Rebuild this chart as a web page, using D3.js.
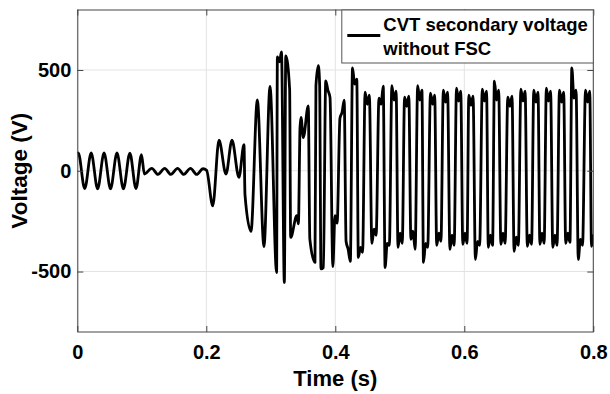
<!DOCTYPE html>
<html>
<head>
<meta charset="utf-8">
<script src="https://cdn.jsdelivr.net/npm/d3@7"></script>
<style>
  body { margin: 0; background: #fff; }
  svg text { font-family: "Liberation Sans", Arial, sans-serif; font-weight: bold; }
</style>
</head>
<body>
<script>
// pre-fault sine and the quiet stretch before the event (time s, voltage V)
var preT = [0, 0.0015, 0.0115, 0.0215, 0.0315, 0.0415, 0.0515, 0.0615, 0.0715, 0.0815, 0.0910, 0.0995,
            0.1040, 0.1155, 0.1250, 0.1355, 0.1450, 0.1555, 0.1650, 0.1755, 0.1850, 0.1950, 0.2005];
var preV = [85, 88, -89, 88, -90, 88, -90, 88, -90, 87, -89, 80,
            -16, 12, -18, 12, -18, 12, -18, 12, -18, 10, 2];

// transient after 0.2 s
var faultT = [0.2100, 0.2197, 0.2305, 0.2398, 0.2506, 0.2584, 0.2600, 0.2693, 0.2791, 0.2894, 0.2988,
              0.3090, 0.3102, 0.3135, 0.3165, 0.3210, 0.3232, 0.3292, 0.3308, 0.3403, 0.3428,
              0.3453, 0.3468, 0.3504, 0.3581, 0.3605, 0.3685, 0.3700, 0.3737, 0.3757, 0.3778, 0.3815];
var faultV = [-174, 152, -17, 152, -33, 129, -120, -301, 351, -376, 418,
              -505, 565, 540, 590, -554, 570, 405, -331, -223, -263,
              215, 265, 165, 322, -338, -455, 422, 521, 430, -487, -480];

// ferroresonance cycles: centre of each top / bottom and its two horns + notch
var topTime = [0.3885, 0.4105, 0.4300, 0.4495, 0.4710, 0.4910, 0.5107, 0.5310, 0.5508, 0.5708, 0.5912,
               0.6103, 0.6312, 0.6500, 0.6707, 0.6910, 0.7110, 0.7305, 0.7508, 0.7700, 0.7912];
var topHorn1 = [446, 260, 510, 390, 360, 422, 365, 422, 385, 400, 410, 375, 405, 445, 365, 405, 400, 410, 400, 510, 400];
var topNotch = [400, 290, 430, 330, 330, 350, 320, 350, 330, 340, 345, 325, 345, 350, 320, 345, 340, 345, 340, 360, 340];
var topHorn2 = [364, 350, 455, 375, 420, 395, 370, 400, 375, 390, 395, 370, 395, 400, 370, 395, 390, 395, 390, 400, 395];

var botTime = [0.3995, 0.4200, 0.4390, 0.4600, 0.4805, 0.5005, 0.5205, 0.5400, 0.5605, 0.5810, 0.6010,
               0.6205, 0.6405, 0.6600, 0.6805, 0.7010, 0.7205, 0.7405, 0.7605, 0.7800, 0.8005];
var botHorn1 = [-476, -350, -430, -360, -480, -380, -340, -455, -370, -390, -365, -440, -380, -365, -400, -375, -365, -380, -360, -440, -375];
var botNotch = [-223, -390, -380, -290, -360, -310, -300, -360, -310, -320, -310, -350, -320, -310, -330, -320, -310, -320, -310, -340, -320];
var botHorn2 = [-260, -450, -405, -320, -370, -360, -390, -380, -350, -370, -360, -370, -370, -360, -370, -365, -360, -370, -355, -370, -365];

var xTicks = [0, 0.2, 0.4, 0.6, 0.8];
var yTicks = [-500, 0, 500];
var legendLines = ["CVT secondary voltage", "without FSC"];

var width = 610, height = 394;
var margin = {top: 9.5, right: 16.7, bottom: 62, left: 77.3};
var w = width - margin.left - margin.right;
var h = height - margin.top - margin.bottom;
var half = 0.0033; // horn offset from plateau centre

var points = [];
preT.forEach(function(t, i) { points.push([t, preV[i]]); });
faultT.forEach(function(t, i) { points.push([t, faultV[i]]); });
topTime.forEach(function(t, i) {
	points.push([t - half, topHorn1[i]], [t, topNotch[i]], [t + half, topHorn2[i]]);
	var b = botTime[i];
	points.push([b - half, botHorn1[i]], [b, botNotch[i]], [b + half, botHorn2[i]]);
});

var x = d3.scaleLinear().domain([0, 0.8]).range([0, w]);
var y = d3.scaleLinear().domain([-800, 800]).range([h, 0]);

var svg = d3.select("body").append("svg")
	.attr("width", width)
	.attr("height", height);

var g = svg.append("g")
	.attr("transform", "translate(" + margin.left + "," + margin.top + ")");

g.append("rect").attr("width", w).attr("height", h).attr("fill", "#fff");

// grid
g.selectAll(".gx").data(xTicks).enter().append("line")
	.attr("x1", function(d) { return x(d); }).attr("x2", function(d) { return x(d); })
	.attr("y1", 0).attr("y2", h)
	.attr("stroke", "#e3e3e3").attr("stroke-width", 1);
g.selectAll(".gy").data(yTicks).enter().append("line")
	.attr("y1", function(d) { return y(d); }).attr("y2", function(d) { return y(d); })
	.attr("x1", 0).attr("x2", w)
	.attr("stroke", "#e3e3e3").attr("stroke-width", 1);

svg.append("defs").append("clipPath").attr("id", "clip")
	.append("rect").attr("width", w).attr("height", h);

var line = d3.line()
	.x(function(d) { return x(d[0]); })
	.y(function(d) { return y(d[1]); })
	.curve(d3.curveMonotoneX);

g.append("path")
	.datum(points)
	.attr("clip-path", "url(#clip)")
	.attr("fill", "none")
	.attr("stroke", "#000")
	.attr("stroke-width", 2.8)
	.attr("stroke-linejoin", "round")
	.attr("d", line);

// axes, ticks inside
function style(sel) {
	sel.select(".domain").remove();
	sel.selectAll(".tick line").attr("stroke", "#444");
	sel.selectAll("text").attr("fill", "#000").style("font-size", "20px");
}
var plain = function(d) { return String(d); };

g.append("g").attr("transform", "translate(0," + h + ")")
	.call(d3.axisBottom(x).tickValues(xTicks).tickSize(-6).tickPadding(13).tickFormat(plain))
	.call(style);
g.append("g")
	.call(d3.axisTop(x).tickValues(xTicks).tickSize(-6).tickFormat(""))
	.call(style);
g.append("g")
	.call(d3.axisLeft(y).tickValues(yTicks).tickSize(-6).tickPadding(6).tickFormat(plain))
	.call(style);
g.append("g").attr("transform", "translate(" + w + ",0)")
	.call(d3.axisRight(y).tickValues(yTicks).tickSize(-6).tickFormat(""))
	.call(style);

g.append("rect")
	.attr("x", 0.5).attr("y", 0.5).attr("width", w - 0.5).attr("height", h - 0.5)
	.attr("fill", "none").attr("stroke", "#444").attr("stroke-width", 1);

// axis labels
svg.append("text")
	.attr("x", margin.left + w / 2).attr("y", 386)
	.attr("text-anchor", "middle")
	.style("font-size", "22px")
	.text("Time (s)");
svg.append("text")
	.attr("transform", "translate(27," + (margin.top + h / 2) + ") rotate(-90)")
	.attr("text-anchor", "middle")
	.style("font-size", "22.5px")
	.text("Voltage (V)");

// legend
var lg = g.append("g").attr("transform", "translate(" + (w - 252) + ",0)");
lg.append("rect")
	.attr("x", 0.5).attr("y", 0.5).attr("width", 251.5).attr("height", 53)
	.attr("fill", "#fff").attr("stroke", "#555").attr("stroke-width", 1);
lg.append("line")
	.attr("x1", 6).attr("x2", 39).attr("y1", 26).attr("y2", 26)
	.attr("stroke", "#000").attr("stroke-width", 2.8);
lg.selectAll(".lt").data(legendLines).enter().append("text")
	.attr("x", 42)
	.attr("y", function(d, i) { return 21 + i * 24; })
	.style("font-size", "18.5px")
	.text(function(d) { return d; });
</script>
</body>
</html>
